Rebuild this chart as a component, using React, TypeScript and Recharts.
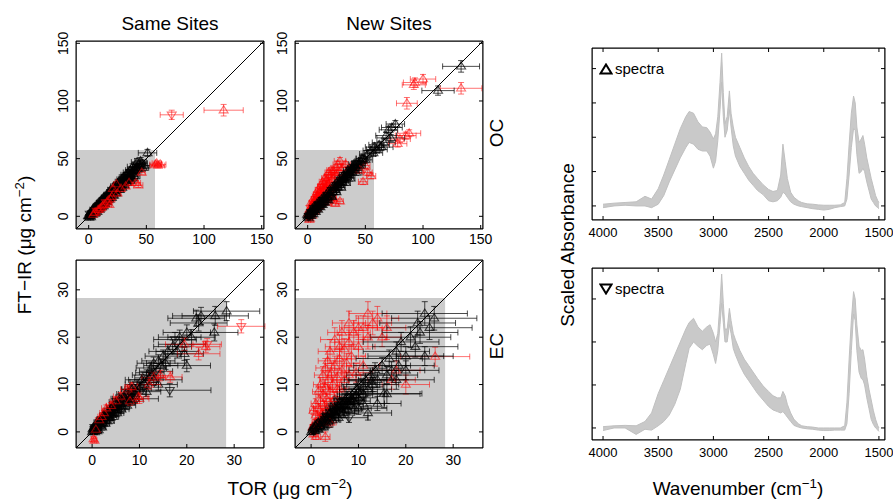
import React from 'react';
import {
  ScatterChart,
  Scatter,
  ComposedChart,
  Area,
  XAxis,
  YAxis,
  ErrorBar,
  ReferenceArea,
  ReferenceLine,
} from 'recharts';

const FONT = '"Liberation Sans", Arial, Helvetica, sans-serif';
const BLACK = 'rgba(0,0,0,0.7)';
const RED = 'rgba(255,0,0,0.55)';

// [TOR, FT-IR, TOR error, FT-IR error, spectra type: 'u' = up triangle, 'd' = down triangle]
type Pt = [number, number, number, number, string];

const ocTicks = [0, 50, 100, 150];
const ecTicks = [0, 10, 20, 30];

const ocSameBlack: Pt[] = [
  [0.5, 1, 1, 1, 'u'], [1, 2, 1, 1, 'd'], [2, 1.5, 1, 1, 'u'], [2.5, 3, 1, 1, 'u'], [3, 2.5, 1, 1, 'd'], [3, 5, 1, 1, 'u'],
  [4, 4.5, 1, 1, 'u'], [4.5, 3.5, 1, 1, 'u'], [5, 5.5, 1.5, 1, 'd'], [5, 8, 1.5, 1, 'u'], [6, 5, 1.5, 1, 'u'], [6, 3, 1.5, 1, 'u'],
  [6.5, 7, 1.5, 1, 'u'], [7, 6, 1.5, 1, 'u'], [8, 8.5, 1.5, 1, 'd'], [8, 11, 1.5, 1, 'u'], [8.5, 7, 1.5, 1, 'u'], [9, 9.5, 2, 1, 'u'],
  [10, 9, 2, 1, 'u'], [10, 7, 2, 1, 'u'], [10.5, 11, 2, 1.5, 'd'], [11, 10, 2, 1.5, 'u'], [12, 12.5, 2, 1.5, 'u'], [12, 15, 2, 1.5, 'u'],
  [13, 12, 2, 1.5, 'u'], [13.5, 14, 2, 1.5, 'd'], [14, 13.5, 2, 1.5, 'u'], [14, 11, 2, 1.5, 'u'], [15, 15.5, 2, 1.5, 'u'], [15, 18, 2, 1.5, 'u'],
  [16, 15, 2.5, 1.5, 'u'], [17, 17.5, 2.5, 1.5, 'd'], [18, 17, 2.5, 1.5, 'u'], [18, 21, 2.5, 2, 'u'], [18, 14.5, 2.5, 1.5, 'u'], [19, 19.5, 2.5, 2, 'u'],
  [20, 19, 2.5, 2, 'u'], [21, 21.5, 3, 2, 'd'], [22, 20.5, 3, 2, 'u'], [22, 26, 3, 2, 'u'], [22, 18, 3, 2, 'u'], [23, 23.5, 3, 2, 'u'],
  [24, 23, 3, 2, 'u'], [25, 26, 3, 2, 'd'], [26, 25, 3, 2, 'u'], [26, 30, 3, 2, 'u'], [27, 28, 3.5, 2, 'u'], [27, 23, 3, 2, 'u'],
  [28, 27, 3.5, 2, 'u'], [29, 30.5, 3.5, 2, 'd'], [30, 29, 3.5, 2, 'u'], [30, 34, 3.5, 2, 'u'], [31, 32, 3.5, 2, 'u'], [31, 27, 3.5, 2, 'u'],
  [32, 31, 4, 2, 'u'], [33, 34, 4, 2.5, 'd'], [34, 33, 4, 2.5, 'u'], [34, 38, 4, 2.5, 'u'], [35, 36, 4, 2.5, 'u'], [36, 35, 4, 2.5, 'u'],
  [36, 31, 4, 2.5, 'u'], [37, 38, 4, 2.5, 'd'], [38, 37, 4.5, 2.5, 'u'], [38, 43, 4.5, 2.5, 'u'], [40, 40, 4.5, 2.5, 'u'], [40, 35, 4.5, 2.5, 'u'],
  [41, 42, 4.5, 2.5, 'u'], [42, 47, 5, 3, 'u'], [43, 43, 5, 3, 'd'], [44, 45, 5, 3, 'u'], [46, 46, 5, 3, 'u'], [48, 44, 5, 3, 'u'],
  [51, 55, 8, 3, 'u'],
  [1.5, 0.5, 1, 1, 'u'], [2, 3.5, 1, 1, 'u'], [3.5, 1.5, 1, 1, 'u'], [4, 6.5, 1, 1, 'u'], [5.5, 2.5, 1.5, 1, 'u'], [7, 9.5, 1.5, 1, 'u'],
  [7.5, 4, 1.5, 1, 'u'], [9, 12, 2, 1, 'u'], [9.5, 6, 2, 1, 'u'], [11, 14, 2, 1.5, 'u'], [11.5, 8, 2, 1.5, 'u'], [13, 16.5, 2, 1.5, 'u'],
  [13, 9, 2, 1.5, 'u'], [16, 19, 2.5, 1.5, 'u'], [16, 12.5, 2.5, 1.5, 'u'], [19, 23, 2.5, 2, 'u'], [20, 16, 2.5, 2, 'u'], [24, 27, 3, 2, 'u'],
  [24, 20, 3, 2, 'u'], [28, 32, 3.5, 2, 'u'], [29, 25, 3.5, 2, 'u'], [32, 36, 4, 2, 'u'], [33, 29, 4, 2, 'u'], [36, 40, 4, 2.5, 'u'],
  [38, 33, 4.5, 2.5, 'u'], [0, 0, 1, 1, 'u'], [0.5, -1, 1, 1, 'u'], [-0.5, 0.5, 1, 1, 'u'], [1, 3, 1, 1, 'u'], [2, -0.5, 1, 1, 'u'],
  [1, 1, 1, 1, 'u'], [2, 2.5, 1, 1, 'u'], [3, 3.5, 1, 1, 'u'], [4, 3, 1, 1, 'u'], [5, 6.5, 1.5, 1, 'u'], [6, 6, 1.5, 1, 'u'],
  [7, 7.5, 1.5, 1, 'u'], [8, 9.5, 1.5, 1, 'u'], [9, 8, 2, 1, 'u'], [10, 10.5, 2, 1, 'u'], [11, 11.5, 2, 1.5, 'u'], [12, 11, 2, 1.5, 'u'],
  [13, 13.5, 2, 1.5, 'u'], [14, 15.5, 2, 1.5, 'u'], [15, 14, 2, 1.5, 'u'], [16, 16.5, 2.5, 1.5, 'u'], [17, 16, 2.5, 1.5, 'u'], [18, 19, 2.5, 2, 'u'],
  [19, 18, 2.5, 2, 'u'], [20, 21, 2.5, 2, 'u'], [21, 20, 3, 2, 'u'], [23, 22, 3, 2, 'u'], [25, 24.5, 3, 2, 'u'], [27, 26, 3.5, 2, 'u'],
  [29, 28.5, 3.5, 2, 'u'], [33, 32, 4, 2, 'u'], [35, 34, 4, 2.5, 'u'], [39, 39, 4.5, 2.5, 'u'], [42, 41, 5, 3, 'u'], [45, 48, 5, 3, 'u'],
  [47, 42, 5, 3, 'u'],
];

const ocSameRed: Pt[] = [
  [4, 1.5, 1, 1, 'u'], [5, 3, 1, 1, 'u'], [7, 4.5, 1, 1, 'd'], [9, 6, 1.5, 1, 'u'], [11, 7.5, 1.5, 1, 'u'], [13, 10, 2, 1.5, 'u'],
  [15, 12, 2, 1.5, 'd'], [17, 14, 2, 1.5, 'u'], [18, 10, 2, 1.5, 'u'], [20, 17, 2.5, 1.5, 'u'], [22, 20, 2.5, 1.5, 'u'], [24, 28, 2.5, 1.5, 'u'],
  [21, 24, 2.5, 1.5, 'u'], [28, 24, 3, 2, 'u'], [32, 26, 3, 2, 'u'], [35, 29, 3, 2, 'u'], [41, 29, 4, 2, 'u'], [43, 27, 4, 2, 'u'],
  [46, 38, 3, 2, 'u'], [58, 45, 5, 2, 'u'], [60, 44, 6, 2, 'u'], [62, 45, 5, 2, 'u'], [59, 46, 4, 2, 'u'],
  [72, 88, 10, 4, 'd'], [117, 92, 17, 5, 'u'],
  [6, 3.5, 1.5, 1, 'u'], [8, 5.5, 1.5, 1, 'u'], [10, 7, 1.5, 1, 'u'], [12, 9, 2, 1, 'u'], [14, 10.5, 2, 1.5, 'u'], [16, 12.5, 2, 1.5, 'u'],
  [19, 15, 2.5, 1.5, 'u'], [25, 20, 3, 2, 'u'],
];

const ocNewBlack: Pt[] = [
  [0.5, 1, 1, 1, 'u'], [1, 0, 1, 1, 'd'], [1.5, 2.5, 1, 1, 'u'], [2, 1, 1, 1, 'u'], [3, 3.5, 1, 1, 'd'], [3.5, 2, 1, 1, 'u'],
  [4, 5, 1, 1, 'u'], [5, 4, 1.5, 1, 'u'], [5.5, 7, 1.5, 1, 'd'], [6.5, 5.5, 1.5, 1, 'u'], [7, 8.5, 1.5, 1, 'u'], [8, 7, 1.5, 1, 'u'],
  [9, 10, 2, 1, 'd'], [10, 8.5, 2, 1, 'u'], [11, 12, 2, 1.5, 'u'], [12, 10.5, 2, 1.5, 'u'], [13, 14, 2, 1.5, 'd'], [14, 12.5, 2, 1.5, 'u'],
  [15, 16, 2.5, 1.5, 'u'], [16, 14.5, 2.5, 1.5, 'u'], [17, 18, 2.5, 1.5, 'd'], [18, 16.5, 2.5, 1.5, 'u'], [19, 20, 2.5, 2, 'u'], [20, 18, 2.5, 2, 'u'],
  [21, 22.5, 3, 2, 'd'], [22, 21, 3, 2, 'u'], [23, 25, 3, 2, 'u'], [24, 23, 3, 2, 'u'], [25, 27, 3, 2, 'd'], [26, 25, 3, 2, 'u'],
  [27, 29.5, 3.5, 2, 'u'], [28, 27.5, 3.5, 2, 'u'], [29, 31, 3.5, 2, 'd'], [30, 29.5, 3.5, 2, 'u'], [31, 33.5, 3.5, 2, 'u'], [32, 32, 4, 2, 'u'],
  [33, 35.5, 4, 2.5, 'd'], [34, 34, 4, 2.5, 'u'], [35, 37.5, 4, 2.5, 'u'], [36, 36, 4, 2.5, 'u'], [37, 40, 4, 2.5, 'd'], [38, 38.5, 4.5, 2.5, 'u'],
  [39, 42, 4.5, 2.5, 'u'], [40, 40, 4.5, 2.5, 'u'], [41, 44, 5, 2.5, 'u'], [42, 42, 5, 2.5, 'u'], [43, 46, 5, 3, 'd'], [44, 45, 5, 3, 'u'],
  [46, 48, 5, 3, 'u'], [48, 50, 6, 3, 'u'], [50, 49, 6, 3, 'u'], [52, 54, 7, 3, 'u'], [55, 57, 7, 3, 'u'], [57, 55, 8, 3, 'u'],
  [58, 60, 8, 3, 'u'], [60, 58, 9, 3, 'u'], [62, 62, 9, 3, 'u'], [64, 60, 10, 3, 'u'], [66, 64, 10, 3, 'u'], [68, 70, 9, 3, 'u'],
  [70, 75, 8, 3, 'u'], [72, 68, 12, 3, 'u'], [73, 77, 9, 3, 'u'], [76, 80, 8, 3, 'u'], [113, 109, 14, 4, 'u'], [133, 130, 16, 5, 'u'],
  [0, 0, 1, 1, 'u'], [-0.5, 1.5, 1, 1, 'u'], [1, -1.5, 1, 1, 'u'], [2, 4, 1, 1, 'u'], [3, 0.5, 1, 1, 'u'], [4, 7, 1, 1, 'u'],
  [5, 2, 1.5, 1, 'u'], [6, 9, 1.5, 1, 'u'], [7, 4, 1.5, 1, 'u'], [8, 11, 1.5, 1, 'u'], [9, 6, 2, 1, 'u'], [10, 13, 2, 1, 'u'],
  [11, 8, 2, 1.5, 'u'], [12, 15, 2, 1.5, 'u'], [13, 10, 2, 1.5, 'u'], [14, 17, 2, 1.5, 'u'], [15, 12, 2.5, 1.5, 'u'], [16, 19, 2.5, 1.5, 'u'],
  [18, 14, 2.5, 1.5, 'u'], [19, 23, 2.5, 2, 'u'], [21, 17, 3, 2, 'u'], [23, 27, 3, 2, 'u'], [25, 21, 3, 2, 'u'], [27, 32, 3.5, 2, 'u'],
  [29, 25, 3.5, 2, 'u'], [31, 36, 3.5, 2, 'u'], [33, 29, 4, 2, 'u'], [35, 40, 4, 2.5, 'u'], [37, 33, 4, 2.5, 'u'], [40, 45, 4.5, 2.5, 'u'],
  [42, 38, 5, 2.5, 'u'],
  [1, 1, 1, 1, 'u'], [2, 2.5, 1, 1, 'u'], [3, 2.5, 1, 1, 'u'], [4, 4, 1, 1, 'u'], [5, 5.5, 1.5, 1, 'u'], [6, 6, 1.5, 1, 'u'],
  [7, 7, 1.5, 1, 'u'], [8, 8.5, 1.5, 1, 'u'], [9, 9, 2, 1, 'u'], [10, 10.5, 2, 1, 'u'], [11, 10.5, 2, 1.5, 'u'], [12, 12.5, 2, 1.5, 'u'],
  [13, 12.5, 2, 1.5, 'u'], [14, 14.5, 2, 1.5, 'u'], [15, 14.5, 2.5, 1.5, 'u'], [17, 16.5, 2.5, 1.5, 'u'], [18, 18.5, 2.5, 1.5, 'u'], [20, 20.5, 2.5, 2, 'u'],
  [22, 23, 3, 2, 'u'], [24, 25, 3, 2, 'u'], [26, 27, 3, 2, 'u'], [28, 29.5, 3.5, 2, 'u'], [30, 31.5, 3.5, 2, 'u'], [32, 34, 4, 2, 'u'],
  [34, 36, 4, 2.5, 'u'], [36, 38, 4, 2.5, 'u'], [38, 40.5, 4.5, 2.5, 'u'], [45, 44, 5, 3, 'u'], [47, 50, 5, 3, 'u'],
];

const ocNewRed: Pt[] = [
  [1, 3, 1, 1, 'u'], [1.5, -3, 1, 1, 'u'], [2, 5, 1, 1, 'u'], [2.5, 7, 1, 1.5, 'd'], [3, 4, 1, 1, 'u'], [3.5, 9, 1, 1.5, 'u'],
  [4, 6, 1.5, 1, 'u'], [4.5, 11, 1.5, 1.5, 'u'], [5, 8, 1.5, 1.5, 'd'], [5.5, 13, 1.5, 1.5, 'u'], [6, 10, 1.5, 1.5, 'u'], [7, 15, 2, 1.5, 'u'],
  [7.5, 12, 2, 1.5, 'u'], [8, 17, 2, 2, 'd'], [9, 14, 2, 1.5, 'u'], [9.5, 20, 2, 2, 'u'], [10, 16, 2, 2, 'u'], [11, 22, 2.5, 2, 'u'],
  [12, 18, 2.5, 2, 'u'], [12.5, 25, 2.5, 2, 'd'], [13, 20, 2.5, 2, 'u'], [14, 28, 2.5, 2, 'u'], [15, 23, 3, 2, 'u'], [16, 31, 3, 2, 'u'],
  [17, 26, 3, 2, 'u'], [18, 34, 3, 2, 'd'], [19, 29, 3, 2, 'u'], [20, 36, 3.5, 2, 'u'], [21, 32, 3.5, 2, 'u'], [22, 40, 3.5, 2, 'u'],
  [24, 35, 3.5, 2, 'u'], [25, 42, 4, 2.5, 'u'], [27, 38, 4, 2.5, 'u'], [28, 48, 5, 3, 'u'], [30, 42, 4, 2.5, 'u'], [33, 45, 4, 2.5, 'u'],
  [17, 12, 3, 2, 'u'], [20, 14, 3, 2, 'u'], [24, 11, 3, 2, 'u'], [28, 13, 3, 2, 'u'], [22, 16, 3, 2, 'u'], [48, 30, 4, 2.5, 'u'],
  [52, 38, 4, 2.5, 'u'], [50, 44, 4, 2.5, 'u'], [55, 35, 4, 2.5, 'u'], [45, 40, 4, 2.5, 'u'], [78, 63, 8, 3, 'u'], [80, 67, 9, 3, 'u'],
  [85, 70, 9, 3, 'u'], [88, 72, 10, 3, 'u'], [86, 98, 9, 5, 'u'], [92, 114, 10, 4, 'u'], [93, 116, 10, 4, 'u'], [100, 119, 11, 4, 'u'],
  [133, 111, 18, 5, 'u'],
  [0.5, 2, 1, 1, 'u'], [1.5, 6, 1, 1, 'u'], [2.5, 3, 1, 1, 'u'], [3, 12, 1.5, 1.5, 'u'], [4, 9, 1.5, 1.5, 'u'], [5, 15, 1.5, 2, 'u'],
  [6, 12, 1.5, 1.5, 'u'], [7, 19, 2, 2, 'u'], [8, 13, 2, 1.5, 'u'], [9, 23, 2.5, 2, 'u'], [10, 19, 2.5, 2, 'u'], [11, 26, 2.5, 2, 'u'],
  [12, 14, 2.5, 2, 'u'], [13, 30, 3, 2, 'u'], [14, 22, 3, 2, 'u'], [15, 33, 3, 2, 'u'], [16, 27, 3, 2, 'u'], [18, 38, 3, 2, 'u'],
  [19, 24, 3, 2, 'u'], [20, 40, 3.5, 2, 'u'], [23, 38, 3.5, 2, 'u'], [26, 45, 4, 2.5, 'u'], [2, -2, 1, 1, 'u'], [4, 1, 1, 1, 'u'],
  [6, 4, 1.5, 1, 'u'], [8, 7, 2, 1.5, 'u'], [10, 9, 2, 1.5, 'u'],
];

const ecSameBlack: Pt[] = [
  [0.2, 0.3, 0.5, 0.5, 'u'], [0.5, 1, 0.5, 0.5, 'd'], [0.8, 0.5, 0.5, 0.5, 'u'], [1, 1.5, 0.6, 0.5, 'u'], [1.2, 0.8, 0.6, 0.5, 'd'],
  [1.5, 2, 0.7, 0.5, 'u'], [1.8, 1.3, 0.7, 0.5, 'u'], [2, 2.6, 0.8, 0.6, 'd'], [2.3, 1.9, 0.8, 0.6, 'u'], [2.6, 3.2, 0.9, 0.6, 'u'],
  [3, 2.5, 1, 0.6, 'u'], [3.2, 3.8, 1, 0.7, 'd'], [3.5, 3, 1, 0.7, 'u'], [3.8, 4.5, 1.2, 0.7, 'u'], [4, 3.6, 1.2, 0.7, 'u'],
  [4.5, 5, 1.3, 0.8, 'd'], [4.8, 4.2, 1.3, 0.8, 'u'], [5.2, 5.8, 1.5, 0.8, 'u'], [5.5, 4.8, 1.5, 0.8, 'u'], [6, 6.4, 1.6, 0.9, 'd'],
  [6.3, 5.5, 1.6, 0.9, 'u'], [6.8, 7.3, 1.8, 0.9, 'u'], [7.2, 6.3, 1.8, 0.9, 'u'], [7.6, 8, 2, 1, 'd'], [8, 7, 2, 1, 'u'],
  [8.5, 9, 2.2, 1, 'u'], [9, 8, 2.3, 1, 'u'], [9.5, 10, 2.5, 1, 'd'], [10, 9.2, 2.5, 1, 'u'], [10.5, 11, 2.8, 1.1, 'u'],
  [11, 10, 3, 1.1, 'u'], [11.5, 12, 3, 1.1, 'd'], [12, 11.4, 3, 1.2, 'u'], [12.5, 13.5, 3.2, 1.2, 'u'], [13, 14.5, 3.5, 1.3, 'u'],
  [13.5, 12.8, 3.5, 1.2, 'd'], [14, 15, 3.5, 1.3, 'u'], [15, 16, 3.8, 1.3, 'u'], [15.5, 14.5, 4, 1.3, 'u'], [16, 17, 4, 1.4, 'u'],
  [16.4, 8.8, 8.7, 1.4, 'd'], [17, 18, 4, 1.4, 'u'], [17.5, 19.5, 4.5, 1.5, 'd'], [18, 17, 4.5, 1.4, 'u'], [18.5, 20, 4.5, 1.5, 'u'],
  [19, 18.5, 5, 1.5, 'u'], [20, 21, 5, 1.6, 'u'], [21, 20, 5, 1.6, 'u'], [22, 24, 6, 1.7, 'u'], [22.5, 23, 6, 1.7, 'u'],
  [23, 24.5, 6, 1.8, 'u'], [25.8, 21, 5, 1.8, 'u'], [28.4, 25.5, 7, 2, 'u'], [13, 11, 6, 1.2, 'u'], [11.5, 8.5, 3, 1, 'u'],
  [9, 7, 5, 1, 'u'], [14, 10, 4, 1.2, 'u'], [19.5, 16.5, 4, 1.4, 'u'], [26, 24.5, 7, 2, 'u'], [20, 14, 5, 1.3, 'u'],
  [0, 0, 0.5, 0.5, 'u'], [0.3, 0.8, 0.5, 0.5, 'u'], [0.6, 0, 0.5, 0.5, 'u'], [1, 2, 0.6, 0.5, 'u'], [1.4, 0.4, 0.6, 0.5, 'u'],
  [1.7, 2.5, 0.7, 0.5, 'u'], [2.1, 1, 0.8, 0.6, 'u'], [2.4, 3.5, 0.8, 0.6, 'u'], [2.8, 1.8, 0.9, 0.6, 'u'], [3.3, 4.3, 1, 0.7, 'u'],
  [3.7, 2.4, 1, 0.7, 'u'], [4.2, 5.2, 1.2, 0.7, 'u'], [4.4, 3.2, 1.2, 0.7, 'u'], [5, 6.3, 1.4, 0.8, 'u'], [5.3, 4, 1.4, 0.8, 'u'],
  [5.8, 7, 1.5, 0.8, 'u'], [6.2, 4.8, 1.6, 0.9, 'u'], [7, 8, 1.8, 0.9, 'u'], [7.4, 5.6, 1.8, 0.9, 'u'], [8.2, 9, 2, 1, 'u'],
  [8.6, 6.8, 2.2, 1, 'u'],
  [0.1, 0.6, 0.5, 0.5, 'u'], [0.7, 1.3, 0.5, 0.5, 'u'], [1.1, 0.2, 0.6, 0.5, 'u'], [1.6, 1.6, 0.7, 0.5, 'u'], [2.2, 2.2, 0.8, 0.6, 'u'],
  [2.7, 2.8, 0.9, 0.6, 'u'], [3.4, 3.4, 1, 0.7, 'u'], [3.9, 4, 1.1, 0.7, 'u'], [4.6, 4.6, 1.3, 0.8, 'u'], [5.4, 5.3, 1.5, 0.8, 'u'],
  [6.1, 6, 1.6, 0.9, 'u'], [6.6, 6.8, 1.7, 0.9, 'u'], [7.8, 7.6, 2, 1, 'u'], [9.2, 9, 2.3, 1, 'u'], [10.8, 10.5, 2.8, 1.1, 'u'],
  [12.2, 12.5, 3, 1.2, 'u'], [14.5, 14, 3.6, 1.3, 'u'],
];

const ecSameRed: Pt[] = [
  [0.3, -1.5, 0.5, 0.5, 'u'], [0.5, -1.8, 0.5, 0.5, 'u'], [0.8, 0.5, 0.5, 0.5, 'u'], [1.5, 2.5, 0.8, 0.6, 'u'], [2, 3.2, 0.8, 0.6, 'u'],
  [2.5, 4, 0.9, 0.6, 'u'], [3, 5, 1, 0.7, 'u'], [4, 5.5, 1, 0.7, 'u'], [5, 6.5, 1.2, 0.8, 'u'], [6, 7.5, 1.5, 0.8, 'u'],
  [7.5, 9, 1.5, 0.9, 'u'], [8.4, 9.5, 1.5, 0.9, 'u'], [8, 6.5, 1.5, 0.9, 'u'], [9.8, 7.4, 2, 1, 'u'], [10, 7, 2, 1, 'u'],
  [12, 10, 2.5, 1, 'u'], [13, 11.5, 2.5, 1.1, 'u'], [14.4, 11.9, 2.5, 1.1, 'u'], [16.5, 11.6, 2.5, 1.1, 'u'],
  [24.3, 18.5, 3, 1.2, 'd'], [24, 18, 3, 1.2, 'u'], [22.5, 16.5, 4.5, 1.3, 'u'], [31.5, 22.3, 5, 1.4, 'd'], [19.5, 18.5, 4, 1.3, 'u'],
];

const ecNewBlack: Pt[] = [
  [0.3, 0.5, 0.5, 0.5, 'u'], [0.6, 0.2, 0.5, 0.5, 'd'], [1, 1.2, 0.6, 0.5, 'u'], [1.3, 0.7, 0.6, 0.5, 'u'], [1.8, 1.8, 0.8, 0.6, 'd'],
  [2, 1.2, 0.8, 0.6, 'u'], [2.5, 2.7, 1, 0.6, 'u'], [2.8, 1.8, 1, 0.6, 'u'], [3.2, 3.3, 1.2, 0.7, 'd'], [3.5, 2.3, 1.2, 0.7, 'u'],
  [4, 4, 1.5, 0.8, 'u'], [4.3, 3, 1.5, 0.8, 'u'], [4.8, 4.8, 1.8, 0.8, 'd'], [5.2, 3.6, 1.8, 0.8, 'u'], [5.6, 5.5, 2, 0.9, 'u'],
  [6, 4.2, 2, 0.9, 'u'], [6.5, 6.3, 2.3, 1, 'd'], [7, 5, 2.5, 1, 'u'], [7.5, 7.2, 2.5, 1, 'u'], [8, 5.8, 3, 1, 'u'],
  [8.5, 8, 3, 1.1, 'd'], [9, 6.5, 3.5, 1.1, 'u'], [9.5, 9, 3.5, 1.2, 'u'], [10, 7.2, 4, 1.2, 'u'], [10.5, 10, 4, 1.3, 'd'],
  [11, 8, 4.5, 1.3, 'u'], [11.5, 11, 4.5, 1.4, 'u'], [12, 9, 5, 1.4, 'u'], [12.5, 12, 5, 1.5, 'u'], [13, 10, 5.5, 1.5, 'u'],
  [13.5, 13, 5.5, 1.6, 'u'], [14, 11, 6, 1.6, 'u'], [15, 14, 6, 1.7, 'u'], [15.4, 8.1, 8, 3, 'u'], [16, 12, 6.5, 1.8, 'u'],
  [16.5, 15.5, 7, 1.8, 'u'], [17, 13, 7, 1.8, 'u'], [18, 17, 7, 2, 'u'], [18.5, 14, 7.5, 2, 'u'], [19, 19, 8, 2, 'u'],
  [20, 16, 8, 2, 'u'], [21, 20, 8.5, 2.2, 'u'], [22, 18, 9, 2.2, 'u'], [22.5, 23, 8, 2.5, 'u'], [23, 21, 8, 2.3, 'u'],
  [24, 25, 9, 2.5, 'u'], [25, 22, 9, 2.5, 'u'], [26, 24, 9, 2.5, 'u'], [18, 11, 8, 2, 'u'], [14, 6, 5, 1.5, 'u'],
  [12, 4, 5, 1.5, 'u'], [8, 3, 4, 1, 'd'], [10, 5, 6, 1.3, 'u'], [20, 13, 7, 2, 'u'], [24, 16, 6, 2, 'u'], [16, 8, 7, 2, 'u'],
  [0, 0, 0.5, 0.5, 'u'], [0.4, 1, 0.5, 0.5, 'u'], [0.9, 0.2, 0.6, 0.5, 'u'], [1.5, 2, 0.7, 0.6, 'u'], [1.6, 0.5, 0.7, 0.5, 'u'],
  [2.2, 2.2, 0.9, 0.6, 'u'], [2.6, 1, 1, 0.6, 'u'], [3, 3, 1.1, 0.7, 'u'], [3.4, 1.5, 1.2, 0.7, 'u'], [3.8, 3.8, 1.4, 0.8, 'u'],
  [4.5, 2.5, 1.6, 0.8, 'u'], [5, 5, 1.8, 0.8, 'u'], [5.8, 3, 2, 0.9, 'u'], [6.2, 6, 2.2, 1, 'u'], [6.8, 4, 2.4, 1, 'u'],
  [7.2, 7, 2.5, 1, 'u'], [7.8, 4.8, 2.8, 1, 'u'], [8.6, 7, 3, 1.1, 'u'], [9.2, 5, 3.5, 1.1, 'u'], [10, 8.5, 4, 1.2, 'u'],
  [11, 6, 4.5, 1.3, 'u'],
  [0.7, 0.8, 0.5, 0.5, 'u'], [1.2, 1.6, 0.6, 0.5, 'u'], [1.9, 1.3, 0.8, 0.6, 'u'], [2.4, 2, 0.9, 0.6, 'u'], [3.1, 2.6, 1.1, 0.7, 'u'],
  [3.6, 3.2, 1.3, 0.7, 'u'], [4.2, 3.6, 1.5, 0.8, 'u'], [4.9, 4.2, 1.7, 0.8, 'u'], [5.4, 4.6, 1.9, 0.9, 'u'], [6.1, 5.2, 2.1, 0.9, 'u'],
  [6.8, 5.8, 2.4, 1, 'u'], [7.6, 6.3, 2.7, 1, 'u'], [8.3, 6.8, 3, 1.1, 'u'], [9.5, 7.8, 3.5, 1.2, 'u'], [11, 9.5, 4.2, 1.3, 'u'],
  [12.8, 10.8, 5, 1.5, 'u'],
];

const ecNewRed: Pt[] = [
  [0.3, 1, 0.5, 0.5, 'u'], [0.5, -0.5, 0.5, 0.5, 'u'], [0.8, 2, 0.6, 0.6, 'u'], [1, 3.5, 0.8, 0.8, 'u'], [1.3, 1.5, 0.7, 0.6, 'u'],
  [1.5, 5, 1, 1, 'u'], [1.8, 3, 0.8, 0.7, 'u'], [2, 6.5, 1.2, 1.2, 'u'], [2.3, 4, 1, 0.8, 'u'], [2.5, 8, 1.5, 1.5, 'u'],
  [2.8, 5.5, 1.2, 1, 'u'], [3, 9.5, 1.5, 1.5, 'u'], [3.3, 7, 1.3, 1.2, 'u'], [3.6, 11, 1.8, 1.8, 'u'], [4, 8.5, 1.5, 1.4, 'u'],
  [4.3, 12.5, 2, 2, 'u'], [4.6, 10, 1.8, 1.6, 'u'], [5, 14, 2, 2, 'u'], [5.5, 11.5, 2, 1.8, 'u'], [6, 15.5, 2.5, 2.2, 'u'],
  [6.5, 13, 2.5, 2, 'u'], [7, 17.5, 3, 2.2, 'u'], [7.5, 14.5, 2.8, 2, 'u'], [8, 19, 3, 2.5, 'u'], [8.5, 16, 3, 2.3, 'u'],
  [9, 21, 3.5, 2.5, 'u'], [10, 18, 3.5, 2.5, 'u'], [11, 22, 4, 2.5, 'u'], [12, 20, 4, 2.5, 'u'], [13, 23, 4, 2.5, 'u'],
  [14, 24, 4.5, 2.5, 'u'], [9.5, 12.5, 3, 2, 'u'], [11, 14, 3.5, 2, 'u'], [15, 20, 4, 2, 'u'], [16, 22, 4, 2.5, 'u'],
  [26.2, 15.9, 7.3, 2, 'u'], [17, 11, 5, 2, 'u'], [18, 13, 5, 2, 'u'], [20, 10, 5, 2, 'u'], [3, -1, 1, 1, 'u'],
  [4, 2, 1.3, 1, 'u'], [6, 9, 2, 1.5, 'u'], [7, 11, 2.5, 1.8, 'u'], [5, 7, 2, 1.4, 'u'],
  [0.5, 4.5, 0.8, 0.8, 'u'], [1, 6, 1, 1, 'u'], [1.5, 8.5, 1.2, 1.2, 'u'], [2, 10, 1.5, 1.5, 'u'], [2.5, 12, 1.8, 1.8, 'u'],
  [3, 13.5, 2, 2, 'u'], [3.5, 15, 2, 2, 'u'], [4, 17, 2.5, 2.5, 'u'], [5, 19.5, 3, 2.5, 'u'], [6, 18, 3, 2.5, 'u'],
  [6.5, 21, 3, 2.5, 'u'], [8, 23, 3.5, 2.5, 'u'], [10, 22, 4, 2.5, 'u'], [12, 25, 4, 2.5, 'u'], [1, -1, 0.6, 0.6, 'u'],
  [2, 2, 0.8, 0.8, 'u'], [3, 4.5, 1, 1, 'u'], [4, 6, 1.2, 1.2, 'u'], [5.5, 9, 1.8, 1.5, 'u'], [8, 12, 2.5, 2, 'u'],
];

// spectra: wavenumber grid and the lower / upper envelope of the scaled absorbance curves
const wavenumber = [
  4000, 3900, 3800, 3700, 3620, 3560, 3500, 3450, 3400, 3350,
  3300, 3250, 3220, 3180, 3140, 3100, 3060, 3030, 3000, 2980,
  2960, 2940, 2925, 2910, 2895, 2875, 2855, 2840, 2820, 2800,
  2760, 2720, 2680, 2640, 2600, 2550, 2500, 2460, 2420, 2390,
  2370, 2350, 2330, 2300, 2270, 2230, 2200, 2150, 2100, 2050,
  2000, 1950, 1900, 1850, 1810, 1790, 1770, 1750, 1730, 1715,
  1700, 1680, 1660, 1645, 1630, 1610, 1590, 1570, 1550, 1530,
  1510, 1500,
];
const wnTicks = [4000, 3500, 3000, 2500, 2000, 1500];

const upUpper = [
  0.05, 0.08, 0.1, 0.12, 0.28, 0.2, 0.5, 0.9, 1.35, 1.8,
  2.25, 2.6, 2.75, 2.7, 2.45, 2.3, 2.28, 2.15, 1.95, 2.1,
  2.6, 3.6, 4.45, 3.3, 2.4, 2.6, 3.35, 2.7, 2.3, 2.0,
  1.7, 1.4, 1.15, 0.95, 0.8, 0.62, 0.48, 0.42, 0.45, 0.9,
  1.8, 1.3, 0.8, 0.4, 0.25, 0.15, 0.1, 0.06, 0.05, 0.03,
  0.02, 0.02, 0.02, 0.03, 0.1, 0.8, 1.8, 2.7, 3.2, 3.0,
  2.3, 1.85, 1.95, 2.05, 1.8, 1.4, 1.1, 0.8, 0.55, 0.3,
  0.15, 0.1,
];
const upLower = [
  -0.05, 0, 0.02, 0, 0, -0.05, 0.05, 0.3, 0.7, 1.05,
  1.4, 1.7, 1.85, 1.8, 1.65, 1.6, 1.6, 1.45, 1.1, 1.3,
  1.9, 2.8, 3.6, 2.6, 2.0, 2.2, 2.8, 2.3, 1.75, 1.45,
  1.15, 0.95, 0.75, 0.6, 0.45, 0.33, 0.15, 0.12, 0.15, 0.25,
  0.4, 0.35, 0.25, 0.12, 0.05, 0, -0.02, -0.05, -0.08, -0.1,
  -0.12, -0.1, -0.05, -0.02, 0, 0.2, 0.9, 1.7, 2.25, 2.2,
  1.5, 0.95, 1.0, 1.1, 1.0, 0.7, 0.45, 0.2, 0.1, 0,
  -0.05, -0.08,
];
const downUpper = [
  0.03, 0.05, 0.06, 0.05, 0.15, 0.35, 0.8, 1.1, 1.4, 1.7,
  2.0, 2.3, 2.45, 2.55, 2.35, 2.25, 2.35, 2.4, 2.2, 2.0,
  2.2, 2.9, 3.58, 2.9, 2.3, 2.3, 2.78, 2.5, 2.2, 2.05,
  1.8, 1.6, 1.45, 1.3, 1.15, 0.98, 0.85, 0.75, 0.7, 0.7,
  0.85, 0.75, 0.55, 0.35, 0.2, 0.1, 0.05, 0.03, 0.02, 0,
  0, 0, 0, 0, 0.05, 0.6, 1.6, 2.5, 3.17, 3.0,
  2.4, 1.9, 1.8, 1.82, 1.6, 1.2, 0.9, 0.65, 0.4, 0.2,
  0.05, 0,
];
const downLower = [
  -0.06, 0, 0, -0.15, -0.03, -0.05, 0.05, 0.15, 0.3, 0.55,
  0.9, 1.5, 1.85, 2.0, 1.9, 1.82, 1.92, 1.95, 1.7, 1.5,
  1.8, 2.4, 2.9, 2.45, 2.0, 2.0, 2.4, 2.2, 1.85, 1.7,
  1.45, 1.25, 1.1, 0.95, 0.8, 0.65, 0.5, 0.42, 0.38, 0.35,
  0.38, 0.32, 0.25, 0.15, 0.06, 0.02, 0, -0.02, -0.03, -0.05,
  -0.06, -0.06, -0.05, -0.05, -0.05, 0.1, 0.8, 1.8, 2.65, 2.5,
  1.8, 1.3, 1.15, 1.12, 1.0, 0.7, 0.45, 0.2, 0.08, 0,
  -0.05, -0.08,
];

const XTick = (props: any) => {
  const { x, y, payload, fs } = props;
  return (
    <text x={x} y={y} dy={fs * 0.72} textAnchor="middle" fontSize={fs} fontFamily={FONT} fill="#000">
      {payload.value}
    </text>
  );
};

const YTick = (props: any) => {
  const { x, y, payload } = props;
  return (
    <text x={x} y={y} transform={`rotate(-90 ${x} ${y})`} textAnchor="middle" fontSize={14} fontFamily={FONT} fill="#000">
      {payload.value}
    </text>
  );
};

const NoTick = () => null;

const triangle = (color: string) => (props: any) => {
  const { cx, cy, payload } = props;
  if (cx == null || cy == null) return <g />;
  const s = 4.5;
  const d =
    payload && payload.k === 'd'
      ? `M${cx - s},${cy - s * 0.6} L${cx + s},${cy - s * 0.6} L${cx},${cy + s} Z`
      : `M${cx},${cy - s} L${cx + s},${cy + s * 0.6} L${cx - s},${cy + s * 0.6} Z`;
  return <path d={d} fill="none" stroke={color} strokeWidth={1.1} />;
};

const toRows = (pts: Pt[]) => pts.map(([tor, ftir, et, ef, k]) => ({ tor, ftir, et, ef, k }));

function series(pts: Pt[], color: string, key: string) {
  return (
    <Scatter key={key} data={toRows(pts)} shape={triangle(color)} isAnimationActive={false} legendType="none">
      <ErrorBar dataKey="et" direction="x" width={3} stroke={color} strokeWidth={1} />
      <ErrorBar dataKey="ef" direction="y" width={3} stroke={color} strokeWidth={1} />
    </Scatter>
  );
}

interface PanelProps {
  left: number;
  top: number;
  lo: number;
  hi: number;
  ticks: number[];
  cut: number;
  black: Pt[];
  red: Pt[];
  redFirst: boolean;
  gap: number;
}

// plot box is 188 x 188, its top-left corner sits at (left + 40, top + 12)
function Panel({ left, top, lo, hi, ticks, cut, black, red, redFirst, gap }: PanelProps) {
  const b = series(black, BLACK, 'black');
  const r = series(red, RED, 'red');
  return (
    <div style={{ position: 'absolute', left, top }}>
      <ScatterChart width={240} height={222} margin={{ top: 11, right: 11, bottom: 0, left: 0 }}>
        <XAxis type="number" dataKey="tor" domain={[lo, hi]} ticks={ticks} interval={0} allowDataOverflow
          height={22} tickSize={-4} tickMargin={gap} tick={<XTick fs={14} />} stroke="#000" />
        <YAxis type="number" dataKey="ftir" domain={[lo, hi]} ticks={ticks} interval={0} allowDataOverflow
          width={40} tickSize={-4} tickMargin={12} tick={<YTick />} stroke="#000" />
        <XAxis xAxisId="top" orientation="top" type="number" domain={[lo, hi]} ticks={ticks} interval={0}
          allowDataOverflow height={1} tickSize={-4} tick={<NoTick />} stroke="#000" />
        <YAxis yAxisId="right" orientation="right" type="number" domain={[lo, hi]} ticks={ticks} interval={0}
          allowDataOverflow width={1} tickSize={-4} tick={<NoTick />} stroke="#000" />
        <ReferenceArea x1={lo} x2={cut} y1={lo} y2={cut} fill="#cccccc" fillOpacity={1} stroke="none" ifOverflow="hidden" />
        <ReferenceLine segment={[{ x: lo, y: lo }, { x: hi, y: hi }]} stroke="#000" strokeWidth={1} ifOverflow="hidden" />
        {redFirst ? r : b}
        {redFirst ? b : r}
        <ReferenceArea x1={lo} x2={hi} y1={lo} y2={hi} fill="none" stroke="#000" strokeWidth={1} ifOverflow="hidden" />
      </ScatterChart>
    </div>
  );
}

interface SpectraProps {
  top: number;
  lower: number[];
  upper: number[];
  yTicks: number[];
  yLo: number;
  yHi: number;
}

// plot box is 293 x 172, its top-left corner sits at (592, top + 5)
function Spectra({ top, lower, upper, yTicks, yLo, yHi }: SpectraProps) {
  const rows = wavenumber.map((wn, i) => ({ wn, band: [lower[i], upper[i]] }));
  return (
    <div style={{ position: 'absolute', left: 552, top }}>
      <ComposedChart width={341} height={199} data={rows} margin={{ top: 4, right: 7, bottom: 0, left: 0 }}>
        <XAxis dataKey="wn" type="number" domain={[1445, 4100]} reversed ticks={wnTicks} interval={0} allowDataOverflow
          height={22} tickSize={-4} tickMargin={12} tick={<XTick fs={13} />} stroke="#000" />
        <YAxis type="number" domain={[yLo, yHi]} ticks={yTicks} interval={0} allowDataOverflow
          width={40} tickSize={-4} tick={<NoTick />} stroke="#000" />
        <XAxis xAxisId="top" orientation="top" dataKey="wn" type="number" domain={[1445, 4100]} reversed ticks={wnTicks}
          interval={0} allowDataOverflow height={1} tickSize={-4} tick={<NoTick />} stroke="#000" />
        <YAxis yAxisId="right" orientation="right" type="number" domain={[yLo, yHi]} ticks={yTicks} interval={0}
          allowDataOverflow width={1} tickSize={-4} tick={<NoTick />} stroke="#000" />
        <Area type="linear" dataKey="band" stroke="#c0c0c0" strokeWidth={1} fill="#c9c9c9" fillOpacity={1}
          dot={false} activeDot={false} isAnimationActive={false} legendType="none" />
        <ReferenceArea x1={1445} x2={4100} y1={yLo} y2={yHi} fill="none" stroke="#000" strokeWidth={1} ifOverflow="hidden" />
      </ComposedChart>
    </div>
  );
}

function Label({ x, y, size, rot, children }: { x: number; y: number; size: number; rot?: boolean; children: React.ReactNode }) {
  return (
    <div
      style={{
        position: 'absolute',
        left: x,
        top: y,
        transform: `translate(-50%, -50%)${rot ? ' rotate(-90deg)' : ''}`,
        fontSize: size,
        fontFamily: FONT,
        lineHeight: 1,
        whiteSpace: 'nowrap',
        color: '#000',
      }}
    >
      {children}
    </div>
  );
}

const Sup = ({ children }: { children: React.ReactNode }) => (
  <span style={{ fontSize: '0.7em', position: 'relative', top: '-0.55em' }}>{children}</span>
);

function SpectraKey({ top, down }: { top: number; down?: boolean }) {
  return (
    <div style={{ position: 'absolute', left: 599, top, display: 'flex', alignItems: 'center', fontFamily: FONT, fontSize: 15 }}>
      <svg width={14} height={12} style={{ marginRight: 2 }}>
        <path d={down ? 'M1.5,1.5 L12.5,1.5 L7,10.5 Z' : 'M7,1.5 L12.5,10.5 L1.5,10.5 Z'} fill="none" stroke="#000" strokeWidth={2} />
      </svg>
      <span>spectra</span>
    </div>
  );
}

export default function App() {
  return (
    <div style={{ position: 'absolute', left: 0, top: 0, width: 893, height: 501, background: '#fff', overflow: 'hidden' }}>
      <Panel left={36} top={29} lo={-11} hi={152} ticks={ocTicks} cut={57.5} black={ocSameBlack} red={ocSameRed} redFirst={false} gap={9} />
      <Panel left={255} top={29} lo={-11} hi={152} ticks={ocTicks} cut={57.5} black={ocNewBlack} red={ocNewRed} redFirst={true} gap={9} />
      <Panel left={36} top={248} lo={-3.4} hi={36.3} ticks={ecTicks} cut={28.3} black={ecSameBlack} red={ecSameRed} redFirst={false} gap={11} />
      <Panel left={255} top={248} lo={-3.4} hi={36.3} ticks={ecTicks} cut={28.3} black={ecNewBlack} red={ecNewRed} redFirst={true} gap={11} />

      <Spectra top={43} lower={upLower} upper={upUpper} yTicks={[0, 1, 2, 3, 4]} yLo={-0.41} yHi={4.6} />
      <Spectra top={263} lower={downLower} upper={downUpper} yTicks={[0, 1, 2, 3]} yLo={-0.28} yHi={3.72} />
      <SpectraKey top={60} />
      <SpectraKey top={280} down />

      <Label x={170} y={23} size={19}>Same Sites</Label>
      <Label x={389} y={23} size={19}>New Sites</Label>
      <Label x={496} y={133} size={19} rot>OC</Label>
      <Label x={496} y={346} size={19} rot>EC</Label>
      <Label x={24} y={245} size={19} rot>FT−IR (μg cm<Sup>−2</Sup>)</Label>
      <Label x={290} y={488} size={19}>TOR (μg cm<Sup>−2</Sup>)</Label>
      <Label x={567} y={245} size={19} rot>Scaled Absorbance</Label>
      <Label x={738} y={488} size={19}>Wavenumber (cm<Sup>−1</Sup>)</Label>
    </div>
  );
}
